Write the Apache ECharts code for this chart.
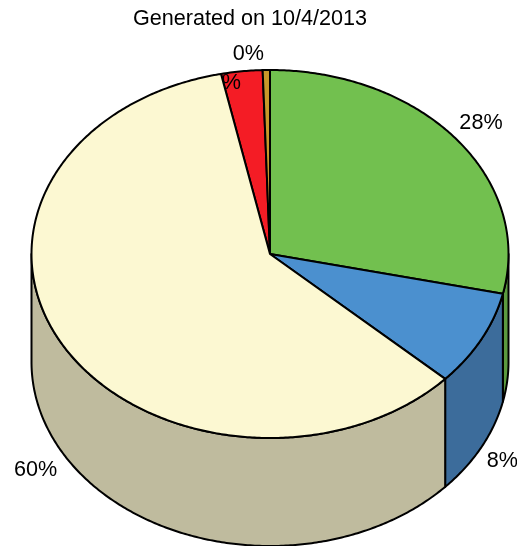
<!DOCTYPE html>
<html>
<head>
<meta charset="utf-8">
<script src="https://cdn.jsdelivr.net/npm/echarts@6/dist/echarts.min.js"></script>
<style>
  html, body { margin: 0; padding: 0; background: #fff; }
  #chart { width: 517px; height: 546px; }
</style>
</head>
<body>
<div id="chart"></div>
<script>
// Slice shares in percent, clockwise from twelve o'clock.
const sliceValues = [28.45, 8.4, 59.8, 2.8, 0.49];
const topColors = ['#72c04f', '#4b90cf', '#fcf8d2', '#f41c25', '#c8982a'];
const wallColors = ['#5b9a3f', '#3c6c9b', '#bfbb9e', '#c3161e', '#a07a22'];
const titleText = 'Generated on 10/4/2013';

// Pie geometry in pixels: ellipse of the top face and height of the wall.
const CX = 270, CY = 254, RX = 238.5, RY = 184, DEPTH = 108;
const LINE = '#000', LINE_W = 2;
const FONT_FAMILY = '"Liberation Sans", Arial, sans-serif';
const FONT_SIZE = 21.6;

// Label centre, relative to the outer edge point at the slice's mid angle.
const labelOffset = [[25, -16], [21, 122], [-27, 125], [-16.5, 11.5], [-18, -16]];

const total = sliceValues.reduce((a, b) => a + b, 0);
const TWO_PI = Math.PI * 2;

function edge(angle, drop) {
  return [CX + RX * Math.sin(angle), CY - RY * Math.cos(angle) + (drop || 0)];
}

function arcPoints(from, to, drop) {
  const steps = Math.max(2, Math.ceil((to - from) / 0.01));
  const pts = [];
  for (let i = 0; i <= steps; i++) {
    pts.push(edge(from + (to - from) * i / steps, drop));
  }
  return pts;
}

// Start angle of the slice at a given index.
function startAngle(index) {
  let sum = 0;
  for (let i = 0; i < index; i++) sum += sliceValues[i];
  return sum / total * TWO_PI;
}

function renderSlice(params, api) {
  const i = params.dataIndex;
  const value = api.value(0);
  const a0 = startAngle(i);
  const a1 = a0 + value / total * TWO_PI;
  const children = [];

  // Only the front half of the rim, from 90 to 270 degrees, shows a wall.
  const w0 = Math.max(a0, Math.PI / 2);
  const w1 = Math.min(a1, Math.PI * 1.5);
  if (w1 > w0) {
    const upper = arcPoints(w0, w1, 0);
    const lower = arcPoints(w0, w1, DEPTH).reverse();
    children.push({
      type: 'polygon',
      shape: { points: upper.concat(lower) },
      style: { fill: wallColors[i], stroke: LINE, lineWidth: LINE_W, lineJoin: 'round' },
      z2: 1
    });
  }

  // The large cream slice is painted last and covers part of the red slice's label.
  const topZ = i === 2 ? 4 : 2;
  children.push({
    type: 'polygon',
    shape: { points: [[CX, CY]].concat(arcPoints(a0, a1, 0)) },
    style: { fill: topColors[i], stroke: LINE, lineWidth: LINE_W, lineJoin: 'round' },
    z2: topZ
  });

  const mid = (a0 + a1) / 2;
  const anchor = edge(mid, 0);
  const off = labelOffset[i];
  children.push({
    type: 'text',
    style: {
      text: Math.round(value) + '%',
      x: anchor[0] + off[0],
      y: anchor[1] + off[1],
      fill: '#000',
      font: FONT_SIZE + 'px ' + FONT_FAMILY,
      align: 'center',
      verticalAlign: 'middle'
    },
    z2: i === 3 ? 3 : 5
  });

  return { type: 'group', children: children };
}

const chart = echarts.init(document.getElementById('chart'), null, { renderer: 'canvas' });
chart.setOption({
  backgroundColor: '#fff',
  animation: false,
  title: {
    text: titleText,
    left: 133,
    top: 8,
    padding: 0,
    textStyle: {
      fontFamily: FONT_FAMILY,
      fontSize: FONT_SIZE,
      fontWeight: 'normal',
      color: '#000'
    }
  },
  series: [{
    type: 'custom',
    coordinateSystem: 'none',
    silent: true,
    renderItem: renderSlice,
    data: sliceValues.map(v => [v])
  }]
});
</script>
</body>
</html>
